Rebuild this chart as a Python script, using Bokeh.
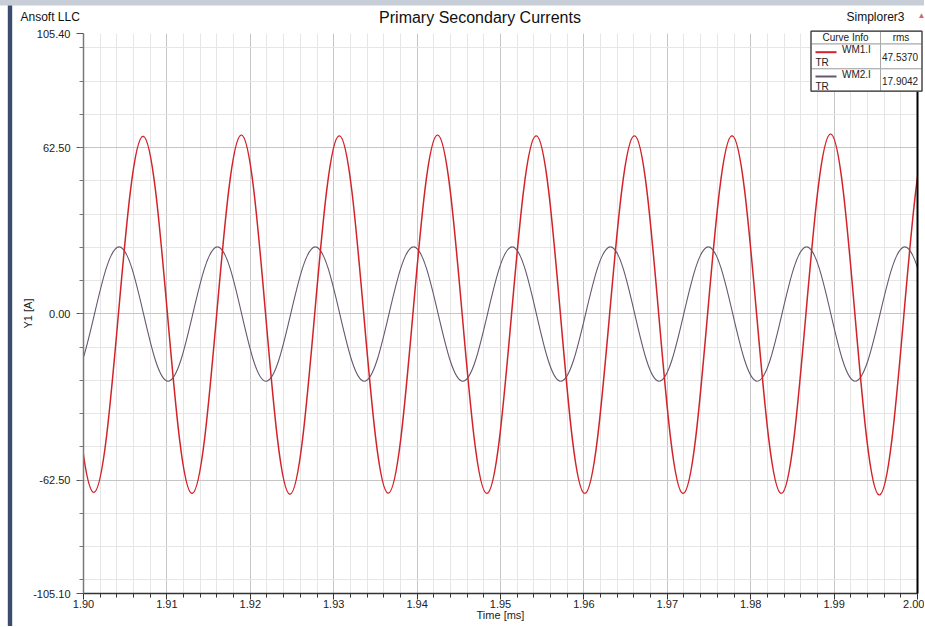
import numpy as np
from bokeh.plotting import figure
from bokeh.models import FixedTicker, PrintfTickFormatter, ColumnDataSource, LinearAxis
from bokeh.core.properties import value
from bokeh.embed import file_html
from bokeh.resources import INLINE

# ---------------- data ----------------
TITLE = "Primary Secondary Currents"
COMPANY = "Ansoft LLC"
PROJECT = "Simplorer3"
X_LABEL = "Time [ms]"
Y_LABEL = "Y1 [A]"

# extrema (time in ms, current in A) of WM1.I (red) — first/last lie just outside the view
wm1_times = [1.89534, 1.90123, 1.90714, 1.91301, 1.91893, 1.92475, 1.93067, 1.93654,
             1.94245, 1.94836, 1.95428, 1.96010, 1.96606, 1.97189, 1.97776, 1.98367,
             1.98958, 1.99542, 2.00132]
wm1_values = [67.0, -67.1, 66.8, -67.5, 67.2, -67.8, 67.0, -67.4,
              67.2, -67.5, 67.0, -67.5, 67.0, -67.5, 67.0, -67.5,
              67.6, -68.1, 67.5]

# extrema of WM2.I (grey-purple)
wm2_times = [1.89836, 1.90427, 1.91014, 1.91606, 1.92188, 1.92780, 1.93367, 1.93958,
             1.94548, 1.95140, 1.95722, 1.96318, 1.96902, 1.97492, 1.98079, 1.98670,
             1.99253, 1.99848, 2.00439]
wm2_values = [-25.3, 25.2, -25.3, 25.2, -25.3, 25.2, -25.3, 25.2,
              -25.3, 25.2, -25.3, 25.2, -25.3, 25.2, -25.3, 25.2,
              -25.3, 25.2, -25.3]

curve_names = ["WM1.I", "WM2.I"]
curve_suffix = ["TR", "TR"]
rms_values = ["47.5370", "17.9042"]

x_ticks = [1.90, 1.91, 1.92, 1.93, 1.94, 1.95, 1.96, 1.97, 1.98, 1.99, 2.00]
y_ticks = [-105.10, -62.50, 0.00, 62.50, 105.40]

# ---------------- layout ----------------
FONT = "Liberation Sans"
RED = "#d2232a"
GREY = "#66586e"

W, H = 924, 626
ML, MT = 83, 33
FW, FH = 834, 560
MR = W - ML - FW
MB = H - MT - FH
X0, X1 = x_ticks[0], x_ticks[-1]
Y0, Y1 = y_ticks[0], y_ticks[-1]


def wx(px):  # canvas pixel -> data x
    return X0 + (px - ML) * (X1 - X0) / FW


def wy(py):  # canvas pixel -> data y
    return Y1 - (py - MT) * (Y1 - Y0) / FH


p = figure(width=W, height=H, x_range=(X0, X1), y_range=(Y0, Y1),
           output_backend="svg", toolbar_location=None, title=None,
           min_border_left=ML, min_border_right=MR, min_border_top=MT,
           min_border_bottom=MB)
p.background_fill_color = "white"
p.border_fill_color = "white"
p.outline_line_color = None

x_minor = [round(X0 + 0.002 * i, 3) for i in range(51)]
y_minor = [12.5 * k for k in range(-8, 9)]
xt = FixedTicker(ticks=x_ticks, minor_ticks=x_minor)
yt = FixedTicker(ticks=y_ticks, minor_ticks=y_minor)
p.xaxis.ticker = xt
p.yaxis.ticker = yt
p.xgrid.ticker = xt
p.ygrid.ticker = yt
p.xaxis.formatter = PrintfTickFormatter(format="%.2f")
p.yaxis.formatter = PrintfTickFormatter(format="%.2f")

for g in (p.xgrid, p.ygrid):
    g.grid_line_color = "#c6c6c6"
    g.grid_line_width = 1
    g.minor_grid_line_color = "#e6e6e6"
    g.minor_grid_line_width = 1

for ax in (p.xaxis, p.yaxis):
    ax.major_label_text_font = FONT
    ax.major_label_text_font_size = "11px"
    ax.major_label_text_color = "#222222"
    ax.axis_label_text_font = FONT
    ax.axis_label_text_font_size = "11px"
    ax.axis_label_text_font_style = "normal"
    ax.axis_label_text_color = "#222222"
    ax.minor_tick_in = 0
    ax.major_tick_in = 0
    ax.minor_tick_out = 4
    ax.major_tick_out = 7

p.xaxis.axis_label = X_LABEL
p.yaxis.axis_label = Y_LABEL
p.xaxis.axis_label_standoff = -2
p.yaxis.axis_label_standoff = -4

p.xaxis.axis_line_color = "#333333"
p.xaxis.axis_line_width = 1.5
p.xaxis.major_tick_line_color = "#333333"
p.xaxis.minor_tick_line_color = "#333333"
p.xaxis.major_label_standoff = 0
p.xaxis.major_tick_out = 6

p.yaxis.axis_line_color = "#7a7a7a"
p.yaxis.axis_line_width = 1.5
p.yaxis.major_tick_line_color = "#555555"
p.yaxis.minor_tick_line_color = "#777777"
p.yaxis.major_label_standoff = 6

# right frame border as a bare axis
rax = LinearAxis(ticker=FixedTicker(ticks=[]), axis_line_color="black", axis_line_width=2,
                 major_tick_line_color=None, minor_tick_line_color=None,
                 major_label_text_font_size="0px")
p.add_layout(rax, "right")


# ---------------- curves (half-cosine Bezier between read extrema) ----------------
def bez_source(ts, vs):
    ts = np.asarray(ts, dtype=float)
    vs = np.asarray(vs, dtype=float)
    dt = np.diff(ts)
    k = 1 - 2 / np.pi
    return ColumnDataSource(dict(x0=ts[:-1], y0=vs[:-1], x1=ts[1:], y1=vs[1:],
                                 cx0=ts[:-1] + k * dt, cy0=vs[:-1],
                                 cx1=ts[1:] - k * dt, cy1=vs[1:]))


p.bezier(x0="x0", y0="y0", x1="x1", y1="y1", cx0="cx0", cy0="cy0", cx1="cx1", cy1="cy1",
         source=bez_source(wm2_times, wm2_values), line_color=GREY, line_width=1.1)
p.bezier(x0="x0", y0="y0", x1="x1", y1="y1", cx0="cx0", cy0="cy0", cx1="cx1", cy1="cy1",
         source=bez_source(wm1_times, wm1_values), line_color=RED, line_width=1.5)


# ---------------- overlay helpers (drawn outside the frame as well) ----------------
def box(x0, x1, y0, y1, fill=None, line=None, lw=1.0):
    p.quad(left=[wx(x0)], right=[wx(x1)], top=[wy(y0)], bottom=[wy(y1)],
           fill_color=fill, fill_alpha=1 if fill else 0, line_color=line,
           line_width=lw, level="overlay")


def htext(px, py, text, size, align="left", color="#111111"):
    p.text(x=[wx(px)], y=[wy(py)], text=[text], text_font=value(FONT),
           text_font_size=value(size), text_align=align, text_baseline="middle",
           text_color=color, level="overlay")


# window chrome
box(-2, W + 2, -2, 5, fill="#c8ced8")
box(7.3, 11.7, 5, H + 5, fill="#3b4c6e")

htext(20, 16.7, COMPANY, "12px")
htext(479.5, 16.5, TITLE, "16px", align="center")
htext(846, 16.2, PROJECT, "12px")
htext(917, 15, "\u25B2", "8px", color="#d06a6a")

# ---------------- legend table ----------------
LX0, LX1, LXM = 810.5, 921.5, 880
LY0, LYH, LYR, LY1 = 30.7, 43.5, 68.3, 90.7
for (a, b, c, d) in [(LX0, LXM, LY0, LYH), (LXM, LX1, LY0, LYH),
                     (LX0, LXM, LYH, LYR), (LXM, LX1, LYH, LYR),
                     (LX0, LXM, LYR, LY1), (LXM, LX1, LYR, LY1)]:
    box(a, b, c, d, fill="white", line="#a8a8a8", lw=1)
box(LX0, LX1, LY0, LY1, line="#3a3a3a", lw=1.2)

htext(845, 37.3, "Curve Info", "10px", align="center", color="#222222")
htext(900.5, 37.3, "rms", "10px", align="center", color="#222222")

colors = [RED, GREY]
row_line_y = [51.7, 76]
for i in range(2):
    ly = row_line_y[i]
    p.segment(x0=[wx(815)], y0=[wy(ly)], x1=[wx(836)], y1=[wy(ly)],
              line_color=colors[i], line_width=2, level="overlay")
    htext(841.5, ly - 2.4, curve_names[i], "10px", color="#222222")
    htext(815, ly + 10, curve_suffix[i], "10px", color="#222222")
    htext(881.5, ly + 4.3, rms_values[i], "10px", color="#222222")

open("out.html", "w").write(file_html(p, INLINE))
